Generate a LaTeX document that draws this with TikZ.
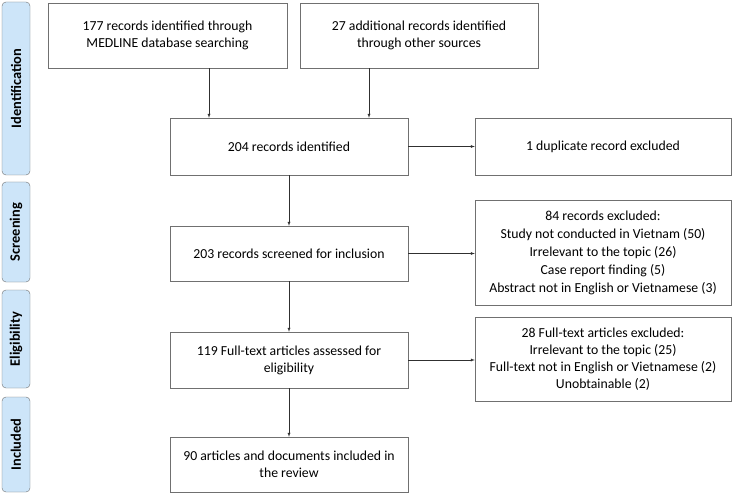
\documentclass[tikz,border=0pt]{standalone}
\usepackage{fontspec}
\setmainfont{Carlito}
\usetikzlibrary{arrows}
\usetikzlibrary{calc}
\definecolor{boxline}{HTML}{707070}
\definecolor{arrowline}{HTML}{303030}
\definecolor{stagefill}{HTML}{CDE5F9}
\tikzstyle{FlowBox}=[rectangle, draw=boxline, thin, align=center, inner sep=2pt, font=\fontsize{13.75}{17}\selectfont]
\tikzstyle{MainBox}=[FlowBox, minimum width=238pt]
\tikzstyle{SideBox}=[FlowBox, minimum width=256pt]
\tikzstyle{StageBox}=[rectangle, rounded corners=4pt, draw=boxline, fill=stagefill, minimum height=28pt, rotate=90, font=\fontsize{14.4}{16}\selectfont\bfseries]
\tikzstyle{FlowEdge}=[->, arrowline, thin]
\tikzset{>=latex}

\begin{document}
\begin{tikzpicture}[x=1pt, y=-1pt]
\useasboundingbox (0,0) rectangle (733,494);
% stages
\node[StageBox, minimum width=173pt](StIdent) at (16,88.5) {Identification};
\node[StageBox, minimum width=100pt](StScreen) at (16,232) {Screening};
\node[StageBox, minimum width=98pt](StElig) at (16,339) {Eligibility};
\node[StageBox, minimum width=95pt](StIncl) at (16,444.5) {Included};

% main column
\node[FlowBox, minimum width=239pt, minimum height=65pt](Medline) at (167.5,35.5) {177 records identified through\\MEDLINE database searching};
\node[MainBox, minimum height=65pt](Other) at (419,35.5) {27 additional records identified\\through other sources};
\node[MainBox, minimum height=57pt](Ident) at (289,146.5) {204 records identified};
\node[MainBox, minimum height=55pt](Screen) at (289,253.5) {203 records screened for inclusion};
\node[MainBox, minimum height=56pt](Full) at (289,360) {119 Full-text articles assessed for\\eligibility};
\node[MainBox, minimum height=55pt](Incl) at (289,464.5) {90 articles and documents included in\\the review};

% exclusions
\node[SideBox, minimum height=57pt](Dup) at (603,146.5) {1 duplicate record excluded};
\node[SideBox, minimum height=105pt, font=\fontsize{13.75}{18}\selectfont](ExclRec) at (603,252.5) {84 records excluded:\\Study not conducted in Vietnam (50)\\Irrelevant to the topic (26)\\Case report finding (5)\\Abstract not in English or Vietnamese (3)};
\node[SideBox, minimum height=84pt](ExclFull) at (603,359) {28 Full-text articles excluded:\\Irrelevant to the topic (25)\\Full-text not in English or Vietnamese (2)\\Unobtainable (2)};

\coordinate(InL) at ([xshift=-80pt]Ident.north);
\coordinate(InR) at ([xshift=80pt]Ident.north);
\draw[FlowEdge](Medline.south -| InL) -- (InL);
\draw[FlowEdge](Other.south -| InR) -- (InR);
\draw[FlowEdge](Ident) -- (Dup);
\draw[FlowEdge](Ident) -- (Screen);
\draw[FlowEdge](Screen.east) -- (Screen.east -| ExclRec.west);
\draw[FlowEdge](Screen) -- (Full);
\draw[FlowEdge](Full.east) -- (Full.east -| ExclFull.west);
\draw[FlowEdge](Full) -- (Incl);
\end{tikzpicture}
\end{document}
